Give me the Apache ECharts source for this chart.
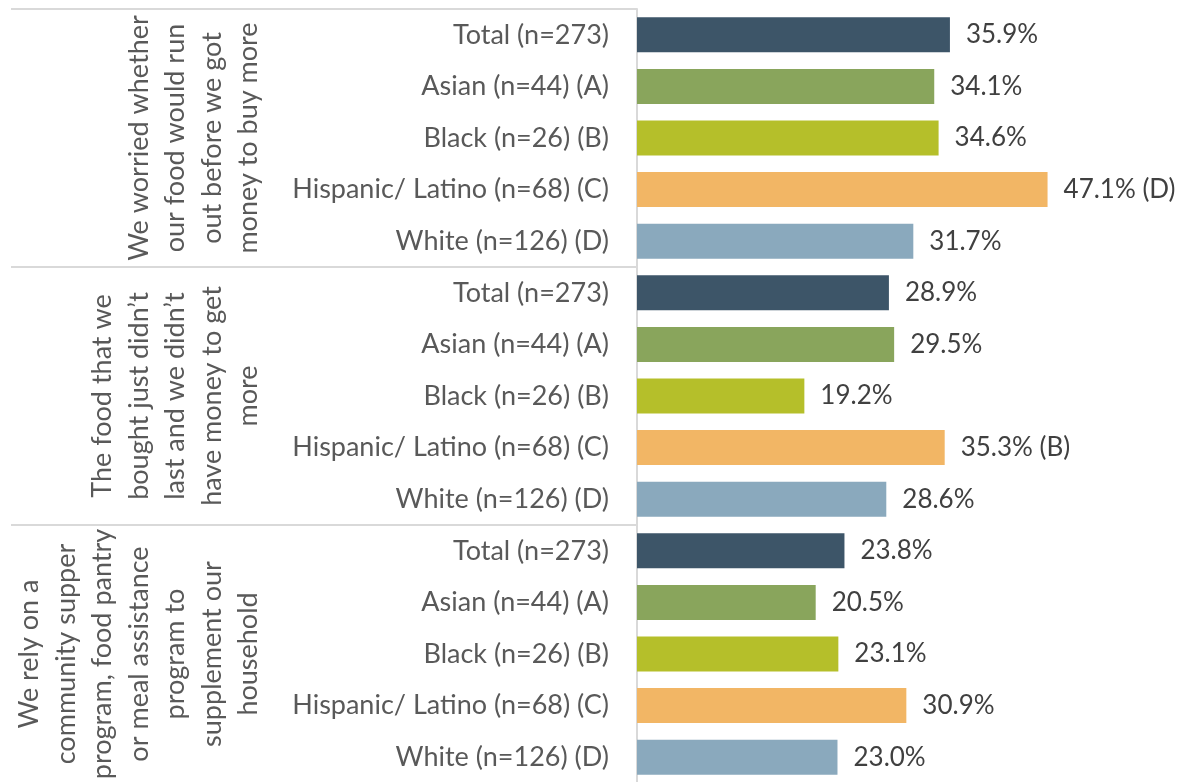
<!DOCTYPE html>
<html>
<head>
<meta charset="utf-8">
<script src="https://cdn.jsdelivr.net/npm/echarts@6/dist/echarts.min.js"></script>
<style>
  html, body { margin: 0; padding: 0; background: #fff; }
  #chart { width: 1180px; height: 782px; }
</style>
</head>
<body>
<div id="chart"></div>
<script>
// 分组（竖排标签）
const groups = [
  'We worried whether\nour food would run\nout before we got\nmoney to buy more',
  'The food that we\nbought just didn’t\nlast and we didn’t\nhave money to get\nmore',
  'We rely on a\ncommunity supper\nprogram, food pantry\nor meal assistance\nprogram to\nsupplement our\nhousehold'
]
const groupNames = ['Total (n=273)', 'Asian (n=44) (A)', 'Black (n=26) (B)', 'Hispanic/ Latino (n=68) (C)', 'White (n=126) (D)']
const categories = [...groupNames, ...groupNames, ...groupNames]
const values = [
  35.9, 34.1, 34.6, 47.1, 31.7,
  28.9, 29.5, 19.2, 35.3, 28.6,
  23.8, 20.5, 23.1, 30.9, 23.0
]
// 显著性字母
const sigLetters = ['', '', '', '(D)', '', '', '', '', '(B)', '', '', '', '', '', '']
const colors = ['#3d5568', '#89a55c', '#b5bf2a', '#f2b665', '#8aa9bd']

const myChart = echarts.init(document.getElementById('chart'))
const font = 'Lato, "Open Sans", sans-serif'

const option = {
  animation: false,
  grid: {left: 637, top: 9, width: 523, height: 774, outerBoundsMode: 'none'},
  xAxis: {type: 'value', min: 0, max: 60, show: false},
  yAxis: [
    {
      type: 'category',
      data: categories,
      inverse: true,
      axisLine: {show: true, lineStyle: {color: '#d9d9d9', width: 2}},
      axisTick: {show: false},
      axisLabel: {
        interval: 0,
        margin: 28,
        color: '#595959',
        fontSize: 27,
        fontFamily: font
      }
    },
    {
      type: 'category',
      data: groups,
      inverse: true,
      position: 'left',
      axisLine: {show: false},
      axisTick: {show: true, interval: 0, length: 626, lineStyle: {color: '#d9d9d9', width: 2}},
      axisLabel: {
        interval: 0,
        rotate: 90,
        margin: 370,
        color: '#595959',
        fontSize: 27,
        lineHeight: 36.5,
        fontFamily: font,
        align: 'center'
      }
    }
  ],
  series: [
    {
      type: 'bar',
      yAxisIndex: 0,
      data: values,
      barWidth: 35,
      itemStyle: {
        color: (p) => colors[p.dataIndex % 5]
      },
      label: {
        show: true,
        position: 'right',
        distance: 16,
        color: '#404040',
        fontSize: 26,
        fontFamily: font,
        formatter: (p) => p.value.toFixed(1) + '%' + (sigLetters[p.dataIndex] ? ' ' + sigLetters[p.dataIndex] : '')
      }
    }
  ]
}
option && myChart.setOption(option)
</script>
</body>
</html>
